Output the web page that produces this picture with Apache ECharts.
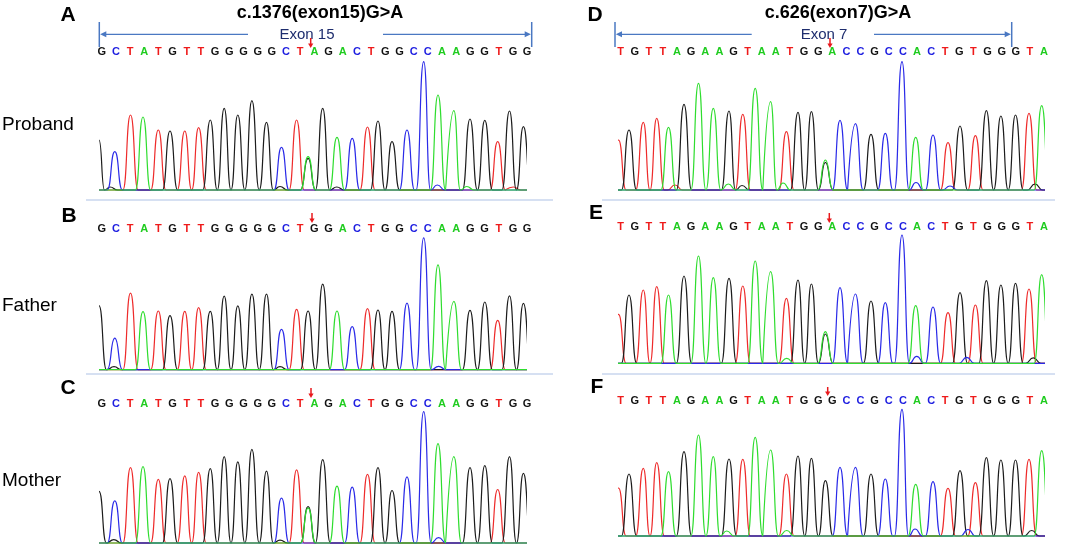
<!DOCTYPE html>
<html>
<head>
<meta charset="utf-8">
<title>Sanger sequencing</title>
<script src="https://cdn.jsdelivr.net/npm/echarts@6/dist/echarts.min.js"></script>
<style>
    html, body { margin: 0; padding: 0; background: #fff; }
    #main { width: 1065px; height: 545px; }
</style>
</head>
<body>
<div id="main"></div>
<script>
// base calls per panel
let seqA = 'GCTATGTTGGGGGCTAGACTGGCCAAGGTGG'.split('');
let seqB = 'GCTATGTTGGGGGCTGGACTGGCCAAGGTGG'.split('');
let seqC = 'GCTATGTTGGGGGCTAGACTGGCCAAGGTGG'.split('');
let seqD = 'TGTTAGAAGTAATGGACCGCCACTGTGGGTA'.split('');
let seqE = 'TGTTAGAAGTAATGGACCGCCACTGTGGGTA'.split('');
let seqF = 'TGTTAGAAGTAATGGGCCGCCACTGTGGGTA'.split('');

// peak positions (scan units) for left (exon 15) and right (exon 7) traces
let scanL = [-1, 14.8, 30.5, 43, 58.3, 70, 84.8, 98.6, 110.3, 124.2, 137.8, 151.9, 166.5, 181.5, 196.6, 208.1,
    222.7, 237, 252.2, 267.5, 278, 292, 307, 323.7, 338, 353.9, 370, 384.8, 397.7, 409.5, 423.4];
let scanR = [-0.5, 10, 24.3, 37.7, 49.5, 65, 79.5, 94.3, 110, 123.8, 136.2, 151.7, 167.4, 179, 192.4, 206.4,
    221, 236.5, 252, 266.3, 283, 296.7, 314, 329, 341, 356.4, 367.4, 381.9, 396.5, 410, 422.7];

// peak heights of the called base
let hA = [50, 38.3, 75, 73, 60, 59, 59, 62.3, 70, 81.7, 75, 89.3, 67.7, 42.7, 70, 33.3,
    81.7, 52.7, 51.7, 63, 69, 48.3, 60, 128.3, 95, 79.3, 71, 69.7, 48.3, 79, 63.3];
let hB = [64, 31.6, 76.6, 58, 58.7, 54, 58.3, 62, 58.3, 73.5, 63.8, 75.6, 75.6, 40.4, 60.4, 58.7,
    85.6, 58.7, 43.1, 61.1, 59.7, 58.3, 66.6, 131.8, 104.9, 68.3, 59.4, 67.7, 49.4, 73.8, 66.3];
let hC = [52, 42.4, 75.9, 76.9, 64.1, 64.8, 67.6, 71, 74.8, 86.9, 81.7, 94.1, 72.4, 45.2, 73.5, 35,
    83.8, 57.2, 56.2, 69, 75.9, 52.8, 66.6, 132.1, 100, 86.9, 75.9, 77.9, 53.8, 86.9, 70];
let hD = [50, 60, 67.7, 71.7, 62.7, 85.7, 106.7, 81.7, 79, 75.7, 101.7, 88.3, 58.3, 77.7, 78.3, 30,
    69.7, 66.3, 55.7, 56.7, 128.3, 52.7, 55, 47.3, 64, 54.3, 79.3, 74, 75, 76.7, 84.3];
let hE = [49, 68.3, 73.3, 76.7, 68.3, 87.3, 107.3, 85.7, 85, 77.3, 102.3, 91.7, 65, 83.3, 79.3, 31.7,
    75.7, 69.3, 62.3, 60.7, 128.3, 57.7, 56.3, 50.7, 70.7, 58.3, 82.7, 78.3, 80, 74.3, 88.7];
let hF = [48, 62, 67.7, 73.3, 64.3, 84.3, 101, 79.3, 77, 76.7, 98.7, 86, 62, 80, 77.7, 55.3,
    68.7, 68.7, 62, 57, 126.7, 51.7, 54.3, 47.7, 65.3, 53.3, 78.3, 76, 76, 76.7, 85.3];

// secondary / background peaks: [base, scan, height]
let minorA = [['G', 208.1, 31.7], ['G', 10, 3], ['C', 337.3, 5], ['G', 236.7, 3], ['G', 180, 3.5], ['A', 366.7, 3.5], ['T', 413.3, 3]];
let minorB = [['C', 338.6, 3.4], ['G', 14, 3], ['G', 180, 3]];
let minorC = [['G', 208.1, 36.5], ['C', 338.6, 5.5], ['G', 13.8, 3.5], ['G', 180, 3]];
let minorD = [['G', 206.4, 27.7], ['C', 297, 7.5], ['G', 416, 6], ['A', 109.3, 6], ['A', 164, 7], ['G', 123, 4.5], ['T', 56, 5], ['C', 331, 4]];
let minorE = [['G', 206.4, 29.3], ['C', 297.7, 7], ['C', 347.7, 6], ['G', 414.3, 5.5], ['A', 167.7, 5]];
let minorF = [['C', 296, 7], ['C', 349, 6.5], ['G', 412.7, 5.5], ['A', 107.7, 5], ['A', 167.7, 5.5]];

let myChart = echarts.init(document.getElementById('main'));
let font = '"Liberation Sans", Arial, sans-serif';
let traceColor = { A: '#2fdd2f', C: '#2a2ae8', G: '#1c1c1c', T: '#ee2b2b' };
let letterColor = { A: '#1fcc1f', C: '#1d1de0', G: '#111111', T: '#ee1b1b' };
let halfWidth = 7.6;

function channelData(seq, scan, h, minor, base) {
    let pk = [];
    seq.forEach((b, i) => { if (b === base) pk.push([scan[i], h[i]]); });
    minor.forEach(m => { if (m[0] === base) pk.push([m[1], m[2]]); });
    pk.sort((a, b) => a[0] - b[0]);
    let pts = [[-15, 0]];
    pk.forEach((p, i) => {
        let l = p[0] - halfWidth, r = p[0] + halfWidth;
        if (i > 0) l = Math.max(l, (pk[i - 1][0] + p[0]) / 2);
        if (i < pk.length - 1) r = Math.min(r, (pk[i + 1][0] + p[0]) / 2);
        if (l > pts[pts.length - 1][0] + 0.01) pts.push([l, 0]);
        pts.push([p[0], p[1]]);
        pts.push([r, 0]);
    });
    pts.push([450, 0]);
    return pts;
}

// panel layout: trace grid + letter row
let panels = [
    { seq: seqA, scan: scanL, h: hA, minor: minorA, left: 100, width: 425, base: 190, letterY: 53, letterLeft: 94.6, letterWidth: 439.6 },
    { seq: seqB, scan: scanL, h: hB, minor: minorB, left: 100, width: 425, base: 369.7, letterY: 230, letterLeft: 94.6, letterWidth: 439.6 },
    { seq: seqC, scan: scanL, h: hC, minor: minorC, left: 100, width: 425, base: 543.8, letterY: 404.8, letterLeft: 94.6, letterWidth: 439.6 },
    { seq: seqD, scan: scanR, h: hD, minor: minorD, left: 619, width: 424, base: 190, letterY: 53, letterLeft: 613.5, letterWidth: 437.6 },
    { seq: seqE, scan: scanR, h: hE, minor: minorE, left: 619, width: 424, base: 363.3, letterY: 227.7, letterLeft: 613.5, letterWidth: 437.6 },
    { seq: seqF, scan: scanR, h: hF, minor: minorF, left: 619, width: 424, base: 536, letterY: 401.7, letterLeft: 613.5, letterWidth: 437.6 }
];

let grid = [], xAxis = [], yAxis = [], series = [];
let rich = {};
['A', 'C', 'G', 'T'].forEach(b => {
    rich[b] = { color: letterColor[b], fontWeight: 'bold', fontSize: 11, fontFamily: font };
});

panels.forEach((p, k) => {
    // trace
    grid.push({ left: p.left, top: p.base + 2 - 140, width: p.width, height: 140 });
    xAxis.push({ type: 'value', gridIndex: 2 * k, min: 0, max: p.width, show: false });
    yAxis.push({ type: 'value', gridIndex: 2 * k, min: -2, max: 138, show: false });
    ['T', 'G', 'C', 'A'].forEach(b => {
        series.push({
            type: 'line',
            xAxisIndex: 2 * k,
            yAxisIndex: 2 * k,
            data: channelData(p.seq, p.scan, p.h, p.minor, b),
            smooth: 0.58,
            smoothMonotone: 'x',
            symbol: 'none',
            silent: true,
            clip: true,
            lineStyle: { color: traceColor[b], width: 1.2 }
        });
    });
    // base letters
    grid.push({ left: p.letterLeft, top: p.letterY - 6.5 - 10, width: p.letterWidth, height: 10 });
    xAxis.push({
        type: 'category',
        gridIndex: 2 * k + 1,
        data: p.seq,
        boundaryGap: true,
        axisLine: { show: false },
        axisTick: { show: false },
        splitLine: { show: false },
        axisLabel: {
            interval: 0,
            margin: 0,
            formatter: v => '{' + v + '|' + v + '}',
            rich: rich
        }
    });
    yAxis.push({ type: 'value', gridIndex: 2 * k + 1, show: false });
});

function text(str, x, y, fontStr, fill, align) {
    return {
        type: 'text', x: x, y: y, silent: true,
        style: {
            text: str, font: fontStr, fill: fill,
            textAlign: align || 'center', align: align || 'center',
            textVerticalAlign: 'middle', verticalAlign: 'middle'
        }
    };
}
function line(x1, y1, x2, y2, color, w) {
    return { type: 'line', silent: true, shape: { x1: x1, y1: y1, x2: x2, y2: y2 }, style: { stroke: color, lineWidth: w } };
}
function redArrow(x, y1, y2) {
    return [
        line(x, y1, x, y2 - 4, '#e8191c', 1.5),
        { type: 'polygon', silent: true, shape: { points: [[x - 2.6, y2 - 4.5], [x + 2.6, y2 - 4.5], [x, y2]] }, style: { fill: '#e8191c' } }
    ];
}
function exonBracket(xl, xr, gapL, gapR, label, cx) {
    let c = '#4a78c2', y = 34.3;
    return [
        line(xl, 22, xl, 47, c, 1.5),
        line(xr, 22, xr, 47, c, 1.5),
        line(xl + 5, y, gapL, y, c, 1.3),
        line(gapR, y, xr - 5, y, c, 1.3),
        { type: 'polygon', silent: true, shape: { points: [[xl + 0.8, y], [xl + 7, y - 3], [xl + 7, y + 3]] }, style: { fill: c } },
        { type: 'polygon', silent: true, shape: { points: [[xr - 0.8, y], [xr - 7, y - 3], [xr - 7, y + 3]] }, style: { fill: c } },
        text(label, cx, 34.8, '15px ' + font, '#1e2d6e')
    ];
}

let sep = '#c8d6ee';
let graphic = [
    text('c.1376(exon15)G>A', 320, 13, 'bold 18px ' + font, '#000'),
    text('c.626(exon7)G>A', 838, 13, 'bold 18px ' + font, '#000'),
    text('A', 68, 15, 'bold 21px ' + font, '#000'),
    text('B', 69, 216, 'bold 21px ' + font, '#000'),
    text('C', 68, 388, 'bold 21px ' + font, '#000'),
    text('D', 595, 15, 'bold 21px ' + font, '#000'),
    text('E', 596, 213, 'bold 21px ' + font, '#000'),
    text('F', 597, 387, 'bold 21px ' + font, '#000'),
    text('Proband', 2, 125, '19px ' + font, '#000', 'left'),
    text('Father', 2, 306, '19px ' + font, '#000', 'left'),
    text('Mother', 2, 481, '19px ' + font, '#000', 'left'),
    line(86, 200, 553, 200, sep, 1.5),
    line(602, 200, 1055, 200, sep, 1.5),
    line(86, 374, 553, 374, sep, 1.5),
    line(602, 374, 1055, 374, sep, 1.5)
].concat(
    exonBracket(99.3, 531.7, 248, 383, 'Exon 15', 307),
    exonBracket(615, 1011.7, 751.7, 874, 'Exon 7', 824),
    redArrow(310.7, 38, 48), redArrow(312, 213, 223), redArrow(311, 388, 398),
    redArrow(830, 38, 48), redArrow(829.3, 213, 223), redArrow(827.7, 387, 396)
);

let option = {
    animation: false,
    backgroundColor: '#fff',
    grid: grid,
    xAxis: xAxis,
    yAxis: yAxis,
    series: series,
    graphic: graphic
};
myChart.setOption(option);
</script>
</body>
</html>
